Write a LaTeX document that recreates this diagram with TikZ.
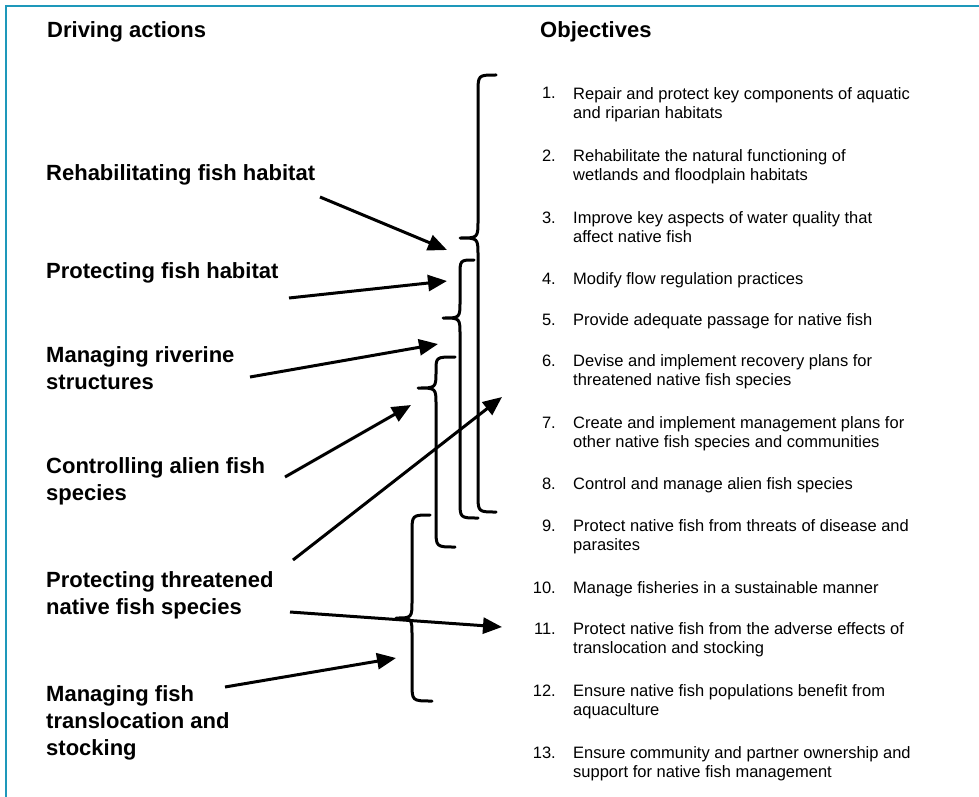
\documentclass[tikz,border=0pt]{standalone}
\usepackage{fontspec}
\setmainfont{Liberation Sans}
\usetikzlibrary{arrows.meta}

\definecolor{frameteal}{RGB}{30,152,186}

\tikzset{
  heading/.style={anchor=base west, inner sep=0pt, font=\fontsize{22}{27}\selectfont\bfseries},
  action/.style={anchor=north west, align=left, inner sep=0pt, font=\fontsize{22}{27}\selectfont\bfseries},
  objnum/.style={anchor=base east, inner sep=0pt, font=\fontsize{16.5}{19}\selectfont},
  objtext/.style={anchor=north west, align=left, inner sep=0pt, yshift=11.9pt, font=\fontsize{16.5}{19}\selectfont},
  bracket/.style={line width=3pt, line cap=round, line join=round},
  link/.style={line width=3pt, -{Triangle[length=19pt,width=16pt]}},
}

\begin{document}
\begin{tikzpicture}[x=1pt,y=-1pt]
  \useasboundingbox (0,0) rectangle (979,797);
  % frame, only top and left edges show
  \draw[frameteal, line width=2pt] (979,6) -- (6,6) -- (6,797);

  % column headings
  \node[heading] (drivehead) at (47,38) {Driving actions};
  \node[heading] (objhead) at (540,38) {Objectives};

  % driving actions (placed by the top of the first line)
  \node[action] (rehab) at (46,164) {Rehabilitating fish habitat};
  \node[action] (protect) at (46,262) {Protecting fish habitat};
  \node[action] (riverine) at (46,346) {Managing riverine\\structures};
  \node[action] (alien) at (46,457) {Controlling alien fish\\species};
  \node[action] (threat) at (46,571) {Protecting threatened\\native fish species};
  \node[action] (transloc) at (46,685) {Managing fish\\translocation and\\stocking};

  % objectives, y is the baseline of the first line
  \foreach \n/\y/\txt in {
      1/99/{Repair and protect key components of aquatic\\and riparian habitats},
      2/161/{Rehabilitate the natural functioning of\\wetlands and floodplain habitats},
      3/223/{Improve key aspects of water quality that\\affect native fish},
      4/284/{Modify flow regulation practices},
      5/325/{Provide adequate passage for native fish},
      6/366/{Devise and implement recovery plans for\\threatened native fish species},
      7/428/{Create and implement management plans for\\other native fish species and communities},
      8/489/{Control and manage alien fish species},
      9/531/{Protect native fish from threats of disease and\\parasites},
      10/593/{Manage fisheries in a sustainable manner},
      11/634/{Protect native fish from the adverse effects of\\translocation and stocking},
      12/696/{Ensure native fish populations benefit from\\aquaculture},
      13/758/{Ensure community and partner ownership and\\support for native fish management}} {
    \node[objnum] (num\n) at (556,\y) {\n.};
    \node[objtext] (obj\n) at (573,\y) {\txt};
  }

  % braces grouping the objectives
  \draw[bracket] (496,75) .. controls (478,75) .. (478,93) -- (478,220)
    .. controls (478,238) .. (460,238) .. controls (478,238) .. (478,256)
    -- (478,494) .. controls (478,512) .. (496,512);
  \draw[bracket] (474,260) .. controls (460,260) .. (460,276) -- (460,301)
    .. controls (460,318) .. (443,318) .. controls (460,318) .. (460,335)
    -- (460,501) .. controls (460,518) .. (478,518);
  \draw[bracket] (455,357) .. controls (436,357) .. (436,371)
    .. controls (436,388) .. (418,388) .. controls (436,388) .. (436,405)
    -- (436,529) .. controls (436,547) .. (455,547);
  \draw[bracket] (430,515) .. controls (412,515) .. (412,533) -- (412,600)
    .. controls (412,618) .. (396,618) .. controls (412,618) .. (412,636)
    -- (412,683) .. controls (412,701) .. (432,701);

  % arrow ends
  \coordinate (rehab tail) at (320,197);
  \coordinate (rehab tip) at (447,250);
  \coordinate (protect tail) at (289,298);
  \coordinate (protect tip) at (447,281);
  \coordinate (riverine tail) at (250,377);
  \coordinate (riverine tip) at (438,344);
  \coordinate (alien tail) at (285,477);
  \coordinate (alien tip) at (411,405);
  \coordinate (threat tail) at (293,560);
  \coordinate (threat tip) at (502,397);
  \coordinate (species tail) at (290,612);
  \coordinate (species tip) at (502,627);
  \coordinate (transloc tail) at (225,687);
  \coordinate (transloc tip) at (396,658);

  \draw[link] (rehab tail) -- (rehab tip);
  \draw[link] (protect tail) -- (protect tip);
  \draw[link] (riverine tail) -- (riverine tip);
  \draw[link] (alien tail) -- (alien tip);
  \draw[link] (threat tail) -- (threat tip);
  \draw[link] (species tail) -- (species tip);
  \draw[link] (transloc tail) -- (transloc tip);
\end{tikzpicture}
\end{document}
